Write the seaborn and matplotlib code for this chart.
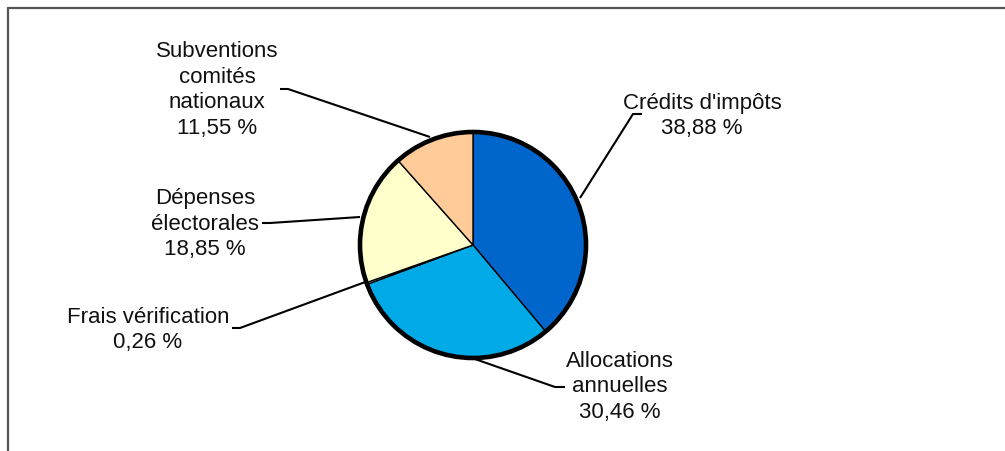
import matplotlib
matplotlib.use("Agg")
import matplotlib.pyplot as plt
from matplotlib.patches import Circle
import seaborn as sns
import numpy as np

# ---- data ----
categories = ["Crédits d'impôts", "Allocations\nannuelles", "Frais vérification",
              "Dépenses\nélectorales", "Subventions\ncomités\nnationaux"]
values = [38.88, 30.46, 0.26, 18.85, 11.55]
value_labels = ["38,88 %", "30,46 %", "0,26 %", "18,85 %", "11,55 %"]
colors = ["#0066CC", "#00AAE6", "#CCFFFF", "#FFFFCC", "#FFCC99"]

# ---- layout (pixel coordinates, y from top) ----
W, H = 1005, 451
center_px = (473, 245)
radius = 113
label_pos = [(702, 116), (620, 387), (148, 330), (205, 224), (217, 90)]
# leader line: label-side start, stub end, pie-side end
leaders = [
    [(642, 114), (633, 114), (580, 198)],
    [(565, 387), (555, 387), (472, 358)],
    [(232, 328), (240, 328), (368, 281)],
    [(262, 223), (270, 223), (360, 217)],
    [(280, 89), (288, 89), (430, 137)],
]

sns.set_theme(style="white")
plt.rcParams['font.family'] = ['Liberation Sans', 'DejaVu Sans']

fig = plt.figure(figsize=(W / 100, H / 100), dpi=100)
ax = fig.add_axes([0, 0, 1, 1])

cx, cy = center_px[0], H - center_px[1]
ax.pie(values, colors=colors, startangle=90, counterclock=False,
       center=(cx, cy), radius=radius, frame=True,
       wedgeprops=dict(edgecolor="black", linewidth=1.0))
ax.set_xlim(0, W)
ax.set_ylim(0, H)
ax.set_aspect("equal")
ax.axis("off")
ax.add_patch(Circle((cx, cy), radius, fill=False, edgecolor="black", linewidth=3.3, zorder=5))

for cat, vl, (lx, ly), pts in zip(categories, value_labels, label_pos, leaders):
    ax.text(lx, H - ly, cat + "\n" + vl, ha="center", va="center", fontsize=16,
            color="#111111", linespacing=1.28)
    xs = [p[0] for p in pts]
    ys = [H - p[1] for p in pts]
    ax.plot(xs, ys, color="black", linewidth=1.5, zorder=4, solid_capstyle="butt")

# frame (left and top edges)
fig.add_artist(plt.Line2D([8 / W, 8 / W], [0, 1 - 8 / H], transform=fig.transFigure,
                          color="#555555", linewidth=1.6))
fig.add_artist(plt.Line2D([8 / W, 1], [1 - 8 / H, 1 - 8 / H], transform=fig.transFigure,
                          color="#555555", linewidth=1.6))

fig.savefig("out.png", dpi=100)
